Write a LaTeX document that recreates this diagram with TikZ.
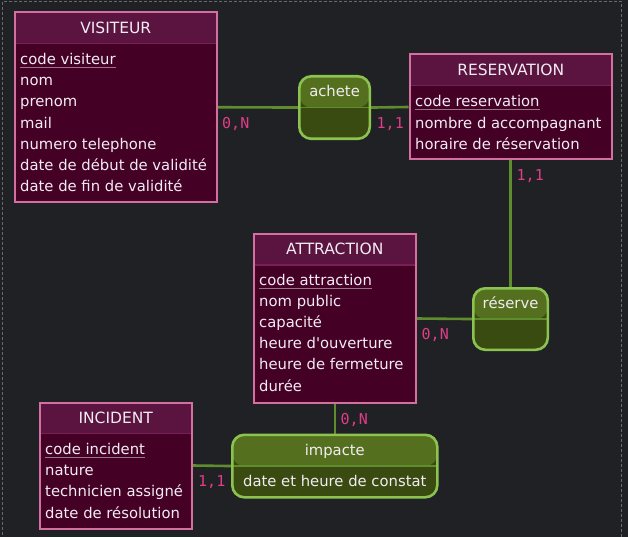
\documentclass[tikz,border=0pt]{standalone}
\usepackage{fontspec}
\setmainfont{DejaVu Sans}[Ligatures=TeXOff]
\newfontfamily\cardfont{DejaVu Sans Mono}
\usetikzlibrary{backgrounds}
\definecolor{bgc}{HTML}{202124}
\definecolor{enthead}{HTML}{5B1340}
\definecolor{entbody}{HTML}{450026}
\definecolor{entborder}{HTML}{D4709F}
\definecolor{enthdiv}{HTML}{7A1F55}
\definecolor{txtc}{HTML}{F2ECF2}
\definecolor{ulc}{HTML}{9A7585}
\definecolor{reltop}{HTML}{54701E}
\definecolor{relbot}{HTML}{3A4B12}
\definecolor{relborder}{HTML}{8CC350}
\definecolor{conc}{HTML}{5F8C2C}
\definecolor{cardc}{HTML}{E03C8A}
\definecolor{framec}{HTML}{6A6A6A}
\tikzset{
  entity/.style={draw=entborder, line width=2pt, fill=entbody, anchor=north west, inner sep=0pt,
    path picture={
      \fill[enthead] (path picture bounding box.north west) rectangle ([yshift=-31pt]path picture bounding box.north east);
      \draw[enthdiv, line width=1.2pt] ([yshift=-31pt]path picture bounding box.north west) -- ([yshift=-31pt]path picture bounding box.north east);
    }},
  relation/.style={draw=relborder, line width=2.6pt, fill=relbot, rounded corners=12pt, anchor=north west, inner sep=0pt,
    path picture={
      \fill[reltop] (path picture bounding box.north west) rectangle (path picture bounding box.east);
      \draw[conc, line width=1.5pt] (path picture bounding box.west) -- (path picture bounding box.east);
    }},
  txt/.style={text=txtc, inner sep=0pt, font=\fontsize{14.8}{18}\selectfont},
  attr/.style={txt, anchor=base west},
  ttl/.style={txt, anchor=base},
  etitle/.style={ttl, font=\fontsize{15.5}{18}\selectfont},
  uline/.style={draw=ulc, line width=1.2pt},
  conn/.style={draw=conc, line width=2.6pt},
  card/.style={text=cardc, inner sep=0pt, anchor=base west, font=\cardfont\fontsize{15}{17}\selectfont},
  frameline/.style={draw=framec, line width=1pt, dash pattern=on 3pt off 2pt}
}
\begin{document}
\begin{tikzpicture}[x=1pt, y=-1pt]
\useasboundingbox (0,0) rectangle (628,537);

% entities
\node[entity, minimum width=202.5pt, minimum height=189.5pt] (vis) at (13.5,11.5) {};
\node[entity, minimum width=202.5pt, minimum height=105pt] (resv) at (408.5,53.5) {};
\node[entity, minimum width=162.5pt, minimum height=169pt] (att) at (252.5,233) {};
\node[entity, minimum width=152.5pt, minimum height=126pt] (inc) at (38.5,401.5) {};

% relations
\node[relation, minimum width=70.5pt, minimum height=62.5pt] (ach) at (298,75) {};
\node[relation, minimum width=74.5pt, minimum height=61.5pt] (rsv) at (472,287) {};
\node[relation, minimum width=205pt, minimum height=62.5pt] (imp) at (231,433.5) {};

% background and connectors
\begin{scope}[on background layer]
\fill[bgc] (0,0) rectangle (628,537);
\draw[frameline] (2.5,540) -- (2.5,1.5) -- (621.5,1.5) -- (621.5,540);
\draw[conn] (vis.east) -- (ach.west);
\draw[conn] (ach.east) -- (resv.west);
\draw[conn] (resv.south -| rsv.north) -- (rsv.north);
\draw[conn] (att.east) -- (rsv.west);
\draw[conn] (att.south -| imp.north) -- (imp.north);
\draw[conn] (inc.east) -- (imp.west);
\end{scope}

% VISITEUR
\node[etitle] (visT) at (vis.north |- 0,33.5) {VISITEUR};
\node[attr] (visK) at (20,64.5) {code visiteur};
\draw[uline] ([yshift=-3pt]visK.base west) -- ([yshift=-3pt]visK.base east);
\foreach \t [count=\i] in {nom,prenom,mail,numero telephone,date de début de validité,date de fin de validité}
  \node[attr] (visA\i) at (20,{64.5+21.2*\i}) {\t};

% RESERVATION
\node[etitle] (resT) at (resv.north |- 0,75.5) {RESERVATION};
\node[attr] (resK) at (415,106.5) {code reservation};
\draw[uline] ([yshift=-3pt]resK.base west) -- ([yshift=-3pt]resK.base east);
\foreach \t [count=\i] in {nombre d accompagnant,horaire de réservation}
  \node[attr] (resA\i) at (415,{106.5+21.6*\i}) {\t};

% ATTRACTION
\node[etitle] (attT) at (att.north |- 0,254.5) {ATTRACTION};
\node[attr] (attK) at (259,285.5) {code attraction};
\draw[uline] ([yshift=-3pt]attK.base west) -- ([yshift=-3pt]attK.base east);
\foreach \t [count=\i] in {nom public,capacité,heure d'ouverture,heure de fermeture,durée}
  \node[attr] (attA\i) at (259,{285.5+21.1*\i}) {\t};

% INCIDENT
\node[etitle] (incT) at (inc.north |- 0,423) {INCIDENT};
\node[attr] (incK) at (45,454.5) {code incident};
\draw[uline] ([yshift=-3pt]incK.base west) -- ([yshift=-3pt]incK.base east);
\foreach \t [count=\i] in {nature,technicien assigné,date de résolution}
  \node[attr] (incA\i) at (45,{454.5+21.2*\i}) {\t};

% relation labels
\node[ttl] (achT) at (ach.north |- 0,96.7) {achete};
\node[ttl] (rsvT) at (rsv.north |- 0,308.3) {réserve};
\node[ttl] (impT) at (imp.north |- 0,455.7) {impacte};
\node[ttl] (impA) at (imp.north |- 0,486.7) {date et heure de constat};

% cardinalities
\node[card] (c1) at (222,128.3) {0,N};
\node[card] (c2) at (376.5,128.3) {1,1};
\node[card] (c3) at (516.5,180.7) {1,1};
\node[card] (c4) at (421.5,339) {0,N};
\node[card] (c5) at (340.5,424.3) {0,N};
\node[card] (c6) at (198,486.7) {1,1};
\end{tikzpicture}
\end{document}
